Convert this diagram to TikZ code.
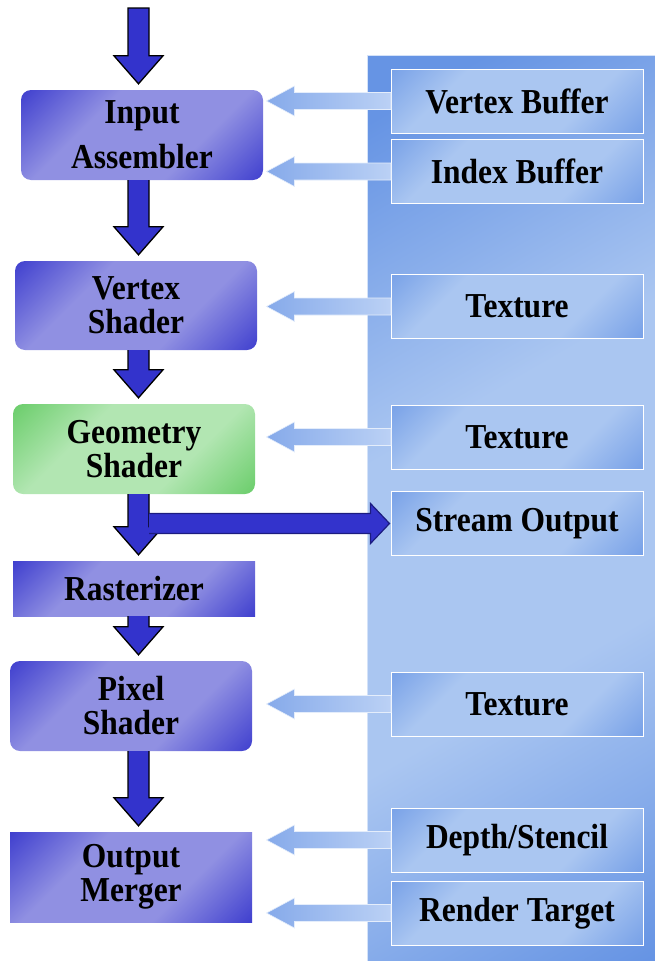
\documentclass[tikz,border=0pt]{standalone}
\usepackage{fontspec}
\setmainfont{Liberation Serif}[FakeStretch=0.9]
\usetikzlibrary{calc}
\definecolor{dkb}{HTML}{3636CC}
\definecolor{ltb}{HTML}{9090E2}
\definecolor{dkg}{HTML}{62CA62}
\definecolor{ltg}{HTML}{B2E6B2}
\definecolor{pdk}{HTML}{6694E4}
\definecolor{plt}{HTML}{AAC6F1}
\definecolor{arr}{HTML}{3333CC}
\definecolor{arrdk}{HTML}{1C1C80}
\definecolor{fdk}{HTML}{86AAEA}
\definecolor{flt}{HTML}{BBD1F5}
\pgfdeclarehorizontalshading{purpsh}{100bp}{color(0bp)=(dkb); color(12bp)=(dkb); color(36bp)=(ltb); color(64bp)=(ltb); color(88bp)=(dkb); color(100bp)=(dkb)}
\pgfdeclarehorizontalshading{greensh}{100bp}{color(0bp)=(dkg); color(12bp)=(dkg); color(36bp)=(ltg); color(64bp)=(ltg); color(88bp)=(dkg); color(100bp)=(dkg)}
\pgfdeclarehorizontalshading{boxsh}{100bp}{color(0bp)=(pdk); color(8bp)=(pdk); color(32bp)=(plt); color(66bp)=(plt); color(92bp)=(pdk); color(100bp)=(pdk)}
\pgfdeclarehorizontalshading{panelsh}{100bp}{color(0bp)=(pdk); color(20bp)=(pdk); color(42bp)=(plt); color(62bp)=(plt); color(84bp)=(pdk); color(100bp)=(pdk)}
\tikzset{
  stage/.style={minimum width=242pt, minimum height=90pt, inner sep=0pt, align=center,
    font=\fontsize{35}{34}\selectfont\bfseries, shading=purpsh, shading angle=-45},
  greenstage/.style={stage, shading=greensh, shading angle=-45},
  resource/.style={minimum width=252pt, minimum height=64pt, inner sep=0pt, align=center,
    font=\fontsize{35}{34}\selectfont\bfseries, shading=boxsh, shading angle=-45,
    draw=white, line width=1pt},
  feedarrow/.style={left color=fdk, right color=flt, draw=white!60!flt, line width=0.6pt},
  flowfill/.style={fill=arr},
  flowline/.style={draw=black, line width=1.3pt, line join=miter},
  sidefill/.style={fill=arr},
  sideline/.style={draw=arrdk, line width=1.2pt},
}
\newcommand{\feedto}[1]{%
  \path[feedarrow] let \p1=(#1.west), \p2=(tipcol |- #1.west) in
    ({\x1+0.5pt},{\y1+8.5pt}) -- ({\x2+28pt},{\y1+8.5pt}) -- ({\x2+28pt},{\y1+15pt}) --
    (\x2,\y1) -- ({\x2+28pt},{\y1-15pt}) -- ({\x2+28pt},{\y1-8.5pt}) --
    ({\x1+0.5pt},{\y1-8.5pt}) -- cycle;}
\newcommand{\flowdown}[2]{%
  \path[flowfill] let \p1=(col |- #1), \p2=(col |- #2) in
    ({\x1-10.5pt},\y1) -- ({\x1-10.5pt},{\y2+34pt}) -- ({\x1-24.5pt},{\y2+34pt}) --
    (\x1,{\y2+6pt}) -- ({\x1+24.5pt},{\y2+34pt}) -- ({\x1+10.5pt},{\y2+34pt}) --
    ({\x1+10.5pt},\y1) -- cycle;
  \path[flowline] let \p1=(col |- #1), \p2=(col |- #2) in
    ({\x1-10.5pt},\y1) -- ({\x1-10.5pt},{\y2+34pt}) -- ({\x1-24.5pt},{\y2+34pt}) --
    (\x1,{\y2+6pt}) -- ({\x1+24.5pt},{\y2+34pt}) -- ({\x1+10.5pt},{\y2+34pt}) --
    ({\x1+10.5pt},\y1);}
\begin{document}
\begin{tikzpicture}[x=1pt,y=-1pt]
\useasboundingbox (0,0) rectangle (655,961);
% background panel
\path[shading=panelsh, shading angle=-60] (367,55) rectangle (655,961);
\draw[white!50!plt, line width=1pt] (367,961) -- (367,55) -- (655,55);
\coordinate (col) at (138.5,0);
\coordinate (tipcol) at (266.5,0);
\coordinate (in) at (138.5,8);
% stages
\node[stage, rounded corners=10pt] (ia) at (142,135) {Input\\[11pt]Assembler};
\node[stage, rounded corners=10pt, minimum height=89pt] (vs) at (136,305.5) {Vertex\\Shader};
\node[greenstage, rounded corners=10pt] (gs) at (134,449) {Geometry\\Shader};
\node[stage, minimum height=55pt] (ra) at (134,588.5) {Rasterizer};
\node[stage, rounded corners=10pt] (ps) at (131,706) {Pixel\\Shader};
\node[stage] (om) at (131,877) {Output\\Merger};
% resources
\node[resource] (vb) at (517,101) {Vertex Buffer};
\node[resource] (ib) at (517,171.5) {Index Buffer};
\node[resource] (t1) at (517,306.5) {Texture};
\node[resource] (t2) at (517,437) {Texture};
\node[resource] (so) at (517,523.5) {Stream Output};
\node[resource] (t3) at (517,704) {Texture};
\node[resource] (ds) at (517,840) {Depth/Stencil};
\node[resource] (rt) at (517,913) {Render Target};
% feed arrows
\feedto{vb}
\feedto{ib}
\feedto{t1}
\feedto{t2}
\feedto{t3}
\feedto{ds}
\feedto{rt}
% pipeline arrows
\path[flowfill, flowline] let \p1=(in), \p2=(col |- ia.north) in
    ({\x1-10.5pt},\y1) -- ({\x1-10.5pt},{\y2+34pt}) -- ({\x1-24.5pt},{\y2+34pt}) --
    (\x1,{\y2+6pt}) -- ({\x1+24.5pt},{\y2+34pt}) -- ({\x1+10.5pt},{\y2+34pt}) --
    ({\x1+10.5pt},\y1) -- cycle;
\flowdown{ia.south}{vs.north}
\flowdown{vs.south}{gs.north}
\flowdown{gs.south}{ra.north}
\flowdown{ra.south}{ps.north}
\flowdown{ps.south}{om.north}
% stream output arrow
\coordinate (sostart) at (149,523.5);
\path[sidefill] let \p1=(sostart), \p2=(so.west) in
    (\x1,{\y2+10pt}) -- ({\x2-20pt},{\y2+10pt}) -- ({\x2-20pt},{\y2+20pt}) --
    ({\x2-1pt},\y2) -- ({\x2-20pt},{\y2-20pt}) -- ({\x2-20pt},{\y2-10pt}) --
    (\x1,{\y2-10pt}) -- cycle;
\path[sideline] let \p1=(sostart), \p2=(so.west) in
    (\x1,{\y2+10pt}) -- ({\x2-20pt},{\y2+10pt}) -- ({\x2-20pt},{\y2+20pt}) --
    ({\x2-1pt},\y2) -- ({\x2-20pt},{\y2-20pt}) -- ({\x2-20pt},{\y2-10pt}) --
    (\x1,{\y2-10pt});
\end{tikzpicture}
\end{document}
